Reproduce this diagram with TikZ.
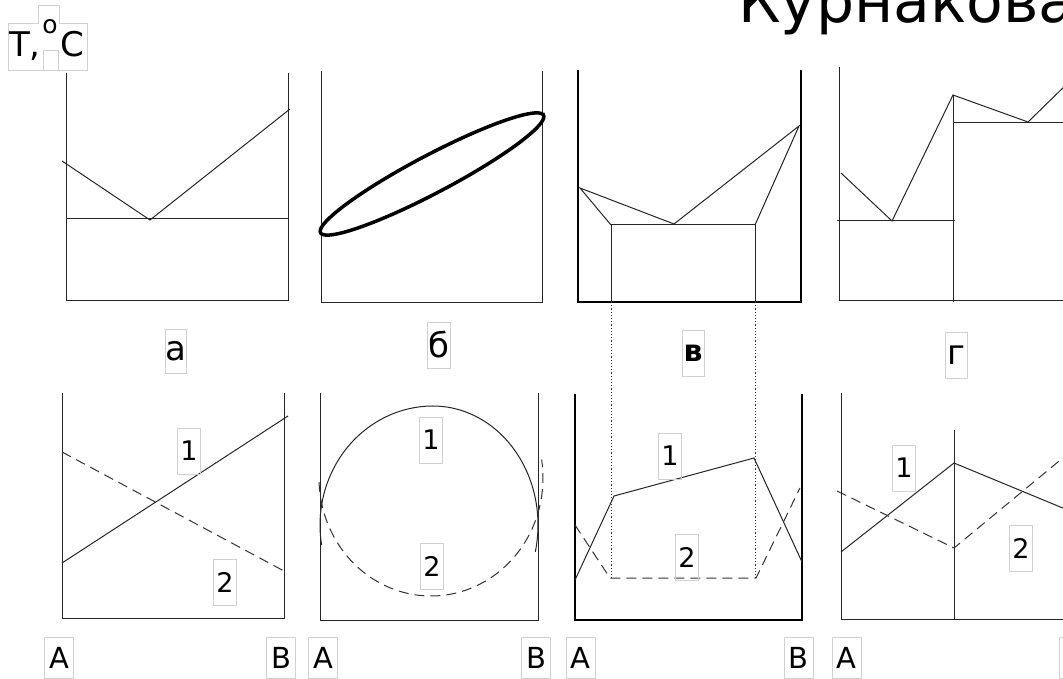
\documentclass[tikz,border=0pt]{standalone}
\usepackage{fontspec}
\setmainfont{DejaVu Sans}
\begin{document}
\begin{tikzpicture}[x=1pt,y=-1pt,
  ln/.style={line width=1pt, black!85},
  thk/.style={line width=1.8pt, black},
  dsh/.style={line width=1pt, black!80, dash pattern=on 10pt off 6pt},
  dotl/.style={line width=0.8pt, black!80, dash pattern=on 1.2pt off 2pt},
  boxc/.style={draw=black!18, line width=0.8pt},
  numbox/.style={boxc, inner sep=0pt, minimum width=23pt, minimum height=46pt, font=\fontsize{27}{27}\selectfont},
  abbox/.style={boxc, inner sep=0pt, minimum width=29pt, minimum height=41pt, font=\fontsize{29}{29}\selectfont},
  capbox/.style={boxc, inner sep=0pt, minimum width=22pt, minimum height=46pt, font=\fontsize{34}{34}\selectfont}]
\clip (0,0) rectangle (1063,679);
\fill[white] (0,0) rectangle (1063,679);

% title
\node[anchor=base west, inner sep=0pt, font=\fontsize{60}{60}\selectfont] (title) at (738,23) {Курнакова};

% T, oC label
\draw[boxc] (8,70) -- (8,23) -- (38,23) -- (38,5) -- (59,5) -- (59,23) -- (87,23) -- (87,70) -- cycle;
\draw[boxc] (43,70) -- (43,50) -- (58,50) -- (58,70);
\node[anchor=base west, inner sep=0pt, font=\fontsize{34}{34}\selectfont] (tT) at (9,57) {T,};
\node[inner sep=0pt, font=\fontsize{25}{25}\selectfont] (tO) at (50,26.5) {o};
\node[anchor=base west, inner sep=0pt, font=\fontsize{34}{34}\selectfont] (tC) at (60,57) {C};

% ---- top row ----
% a
\draw[ln] (66,73) -- (66,300) -- (288,300) -- (288,73);
\draw[ln] (66,219) -- (288,219);
\draw[ln] (62,161) -- (150,220) -- (290,109);
\node[capbox, minimum width=19pt, minimum height=44pt] (la) at (175.5,351) {а};
% b
\draw[ln] (321,71) -- (321,302) -- (542,302) -- (542,71);
\draw[line width=3.5pt, black] plot[domain=0:360, samples=120, smooth]
  ({432+126*cos(\x)*cos(27.8)+19*sin(\x)*sin(27.8)},{174-126*cos(\x)*sin(27.8)+19*sin(\x)*cos(27.8)}) -- cycle;
\node[capbox, minimum width=23pt] (lb) at (438.5,345) {б};
% v
\draw[thk] (578,70) -- (578,302) -- (801,302) -- (801,70);
\draw[ln] (611,302) -- (611,225) -- (755,225) -- (755,302);
\draw[ln] (611,225) -- (580,188) -- (674,224) -- (799,126) -- (755,225);
\draw[dotl] (611,302) -- (611,578);
\draw[dotl] (755,302) -- (755,578);
\node[capbox, font=\fontsize{30}{30}\selectfont\bfseries] (lv) at (693,353) {в};
% g
\draw[ln] (839,67) -- (839,300) -- (1070,300);
\draw[ln] (953,95) -- (953,302);
\draw[ln] (837,221) -- (955,221);
\draw[ln] (953,123) -- (1070,123);
\draw[ln] (841,173) -- (892,221) -- (953,95) -- (1028,122) -- (1070,81);
\node[capbox] (lg) at (956,355) {г};

% ---- bottom row ----
% 1
\draw[ln] (62,393) -- (62,618) -- (284,618) -- (284,393);
\draw[ln] (62,563) -- (288,416);
\draw[dsh] (62,452) -- (284,571);
\node[numbox] (n1a) at (189,451) {1};
\node[numbox] (n2a) at (225,582) {2};
\node[abbox] (Aa) at (59,657.5) {A};
\node[abbox] (Ba) at (281,657.5) {B};
% 2
\draw[ln] (320,393) -- (320,620) -- (538,620) -- (538,393);
\draw[ln] plot[domain=189.7:90, samples=50, smooth] ({433+113*cos(\x)},{525-119*sin(\x)})
  -- plot[domain=90:-13, samples=50, smooth] ({433+105*cos(\x)},{525-119*sin(\x)});
\draw[dsh] plot[domain=182:369, samples=90, smooth] ({431+112*cos(\x)},{478-118*sin(\x)});
\node[numbox] (n1b) at (431,440) {1};
\node[numbox] (n2b) at (432,566) {2};
\node[abbox] (Ab) at (323,657.5) {A};
\node[abbox] (Bb) at (536,657.5) {B};
% 3
\draw[thk] (575,394) -- (575,620) -- (802,620) -- (802,394);
\draw[ln] (575,580) -- (614,496) -- (754,458) -- (802,562);
\draw[dsh] (575,525) -- (610,578) -- (756,578) -- (800,488);
\node[numbox] (n1c) at (670,456) {1};
\node[numbox] (n2c) at (687,557) {2};
\node[abbox] (Ac) at (580.5,657.5) {A};
\node[abbox] (Bc) at (798.5,657.5) {B};
% 4
\draw[ln] (841,393) -- (841,619) -- (1070,619);
\draw[ln] (954,430) -- (954,619);
\draw[ln] (841,552) -- (954,463) -- (1070,511);
\draw[dsh] (837,491) -- (954,548) -- (1070,452);
\node[numbox] (n1d) at (904,468) {1};
\node[numbox] (n2d) at (1021,548) {2};
\node[abbox] (Ad) at (846.5,657.5) {A};
\node[abbox] (Bd) at (1074,657.5) {B};
\end{tikzpicture}
\end{document}
